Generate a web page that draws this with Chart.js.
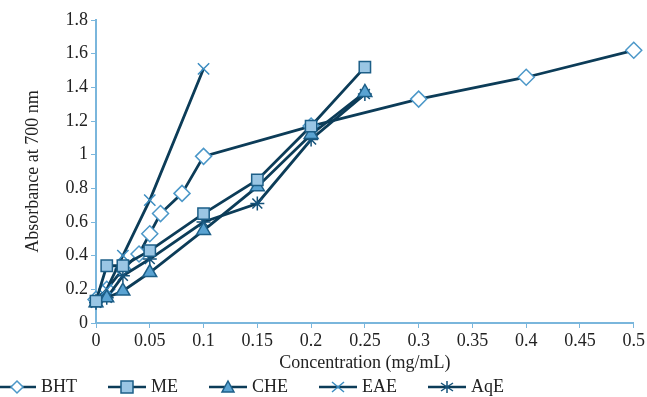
<!DOCTYPE html>
<html>
<head>
<meta charset="utf-8">
<script src="https://cdn.jsdelivr.net/npm/chart.js@4.4.1/dist/chart.umd.min.js"></script>
<style>
  html, body { margin: 0; padding: 0; background: #fff; }
  #wrap { width: 647px; height: 397px; }
</style>
</head>
<body>
<div id="wrap"><canvas id="myChart" width="647" height="397"></canvas></div>
<script>
// concentrations (mg/mL) and absorbance readings per extract
var bhtX = [0, 0.01, 0.025, 0.04, 0.05, 0.06, 0.08, 0.1, 0.2, 0.3, 0.4, 0.5];
var bhtY = [0.14, 0.2, 0.32, 0.41, 0.53, 0.65, 0.77, 0.99, 1.17, 1.33, 1.46, 1.62];
var meX = [0, 0.01, 0.025, 0.05, 0.1, 0.15, 0.2, 0.25];
var meY = [0.13, 0.34, 0.34, 0.43, 0.65, 0.85, 1.17, 1.52];
var cheX = [0, 0.01, 0.025, 0.05, 0.1, 0.15, 0.2, 0.25];
var cheY = [0.12, 0.15, 0.19, 0.3, 0.55, 0.81, 1.12, 1.37];
var eaeX = [0, 0.01, 0.025, 0.05, 0.1];
var eaeY = [0.13, 0.2, 0.4, 0.73, 1.51];
var aqeX = [0, 0.01, 0.025, 0.05, 0.1, 0.15, 0.2, 0.25];
var aqeY = [0.12, 0.15, 0.28, 0.38, 0.6, 0.71, 1.09, 1.36];
var seriesNames = ["BHT", "ME", "CHE", "EAE", "AqE"];

var lineColor = "#0c3c58";
var axisColor = "#7ab6dc";
var font = "'Liberation Serif', 'Times New Roman', serif";

function pts(xs, ys) {
  return xs.map(function (x, i) { return { x: x, y: ys[i] }; });
}

// legend icon: short line with the marker in the middle
function legendIcon(style, fill, stroke) {
  var c = document.createElement("canvas");
  c.width = 38; c.height = 16;
  var g = c.getContext("2d");
  g.strokeStyle = lineColor;
  g.lineWidth = 2.5;
  g.beginPath(); g.moveTo(0, 8); g.lineTo(38, 8); g.stroke();
  g.fillStyle = fill;
  g.strokeStyle = stroke;
  g.lineWidth = 1.5;
  g.beginPath();
  if (style === "rectRot") {
    g.moveTo(19, 2); g.lineTo(25, 8); g.lineTo(19, 14); g.lineTo(13, 8); g.closePath();
    g.fill(); g.stroke();
  } else if (style === "rect") {
    g.rect(13, 2, 12, 12); g.fill(); g.stroke();
  } else if (style === "triangle") {
    g.moveTo(19, 2); g.lineTo(25, 13); g.lineTo(13, 13); g.closePath();
    g.fill(); g.stroke();
  } else if (style === "crossRot") {
    g.moveTo(13, 3); g.lineTo(25, 13); g.moveTo(25, 3); g.lineTo(13, 13); g.stroke();
  } else {
    g.moveTo(19, 2); g.lineTo(19, 14);
    g.moveTo(13, 4); g.lineTo(25, 12); g.moveTo(25, 4); g.lineTo(13, 12); g.stroke();
  }
  return c;
}

var styles = [
  { shape: "rectRot", fill: "#ffffff", stroke: "#4b97c8", r: 8 },
  { shape: "rect", fill: "#9ac6e4", stroke: "#1d5f88", r: 8 },
  { shape: "triangle", fill: "#5aa3d2", stroke: "#1d5f88", r: 8 },
  { shape: "crossRot", fill: "#3b8cc0", stroke: "#3b8cc0", r: 8 },
  { shape: "star", fill: "#14527a", stroke: "#14527a", r: 7 }
];
var allX = [bhtX, meX, cheX, eaeX, aqeX];
var allY = [bhtY, meY, cheY, eaeY, aqeY];

var datasets = seriesNames.map(function (name, i) {
  var s = styles[i];
  return {
    label: name,
    data: pts(allX[i], allY[i]),
    borderColor: lineColor,
    borderWidth: 2.8,
    pointStyle: s.shape,
    pointRadius: s.r,
    pointBackgroundColor: s.fill,
    pointBorderColor: s.stroke,
    pointBorderWidth: 1.5,
    legendIcon: legendIcon(s.shape, s.fill, s.stroke),
    order: i === 0 ? 9 : i,
    clip: false,
    tension: 0
  };
});

function fmt(v) { return String(+Number(v).toFixed(2)); }

var legendPad = 35;

// keep the wide item spacing but a compact legend row at the bottom
const compactLegend = {
  id: "compactLegend",
  beforeLayout: function (chart) {
    var lg = chart.legend;
    if (!lg || lg._compact) return;
    lg._compact = true;
    var fit = lg.fit, draw = lg._draw;
    lg.fit = function () { fit.call(this); this.height = 23; };
    lg._draw = function () {
      var t = this.top, l = this.left;
      this.top = t - (legendPad - 4);
      this.left = l - (legendPad - 2);
      draw.call(this);
      this.top = t; this.left = l;
    };
  }
};

const config = {
  type: "line",
  data: { datasets: datasets },
  plugins: [compactLegend],
  options: {
    responsive: false,
    animation: false,
    layout: { padding: { top: 20, right: 10, left: 0, bottom: 0 } },
    scales: {
      x: {
        type: "linear",
        min: 0,
        max: 0.5,
        ticks: { stepSize: 0.05, color: "#222", font: { family: font, size: 18 }, padding: 2, maxRotation: 0, callback: fmt },
        grid: { drawOnChartArea: false, color: axisColor, tickLength: 5 },
        border: { color: axisColor, width: 2 },
        title: { display: true, text: "Concentration (mg/mL)", color: "#222", font: { family: font, size: 18 }, padding: { top: 0, bottom: 0 } },
        afterFit: function (scale) { scale.height = 51; }
      },
      y: {
        min: 0,
        max: 1.8,
        ticks: { stepSize: 0.2, color: "#222", font: { family: font, size: 18 }, padding: 3, callback: fmt },
        grid: { drawOnChartArea: false, color: axisColor, tickLength: 5 },
        border: { color: axisColor, width: 2 },
        title: { display: true, text: "Absorbance at 700 nm", color: "#222", font: { family: font, size: 18 }, padding: { top: 22, bottom: 0 } },
        afterFit: function (scale) { scale.width = 96; }
      }
    },
    plugins: {
      tooltip: { enabled: false },
      legend: {
        display: true,
        position: "bottom",
        align: "start",
        labels: {
          usePointStyle: true,
          pointStyleWidth: 30,
          padding: legendPad,
          color: "#222",
          font: { family: font, size: 18 },
          generateLabels: function (chart) {
            return chart.data.datasets.map(function (ds, i) {
              return {
                text: ds.label,
                pointStyle: ds.legendIcon,
                fillStyle: ds.pointBackgroundColor,
                strokeStyle: lineColor,
                lineWidth: 0,
                hidden: false,
                datasetIndex: i,
                fontColor: "#222"
              };
            });
          }
        }
      }
    }
  }
};

const absorbanceChart = new Chart(document.getElementById("myChart"), config);
</script>
</body>
</html>
